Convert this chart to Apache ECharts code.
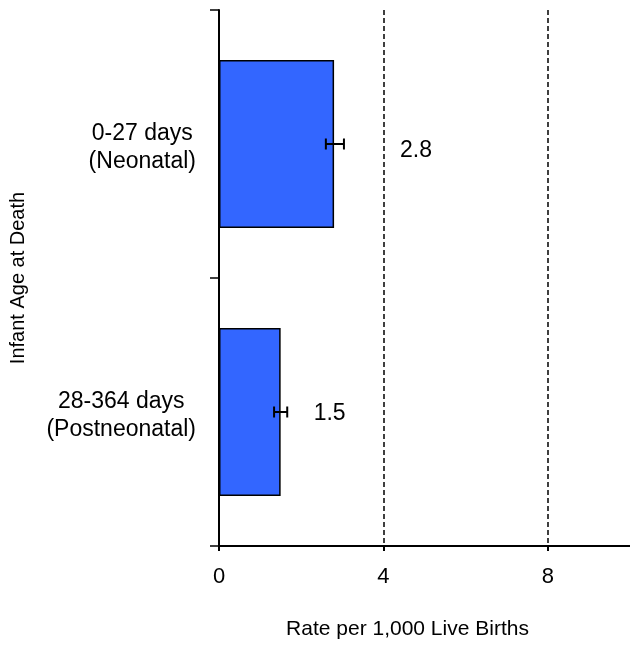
<!DOCTYPE html>
<html>
<head>
<meta charset="utf-8">
<script src="https://cdn.jsdelivr.net/npm/echarts@6/dist/echarts.min.js"></script>
<style>html,body{margin:0;padding:0;background:#fff}#c{width:630px;height:645px}</style>
</head>
<body>
<div id="c"></div>
<script>
var categories = ['0-27 days\n(Neonatal)', '28-364 days\n(Postneonatal)'];
var rates = [2.8, 1.5];
var ciLower = [2.6, 1.34];
var ciUpper = [3.04, 1.66];
var xTicks = [0, 4, 8];
var gridLines = [4, 8];

var labelGap = [66, 33];
var labelShift = [[0, 7], [0, 2]];
var FONT = "'Liberation Sans', Arial, Helvetica, sans-serif";

var chart = echarts.init(document.getElementById('c'), null, {renderer: 'canvas'});

var barData = rates.map(function (v, i) {
  return {
    value: v,
    label: {distance: labelGap[i], offset: labelShift[i]}
  };
});
var errData = rates.map(function (v, i) { return [i, ciLower[i], ciUpper[i]]; });

chart.setOption({
  animation: false,
  backgroundColor: '#fff',
  grid: {left: 218, top: 10, width: 414, height: 538, containLabel: false},
  xAxis: {
    type: 'value',
    min: 0, max: 10, interval: 4,
    axisLine: {show: true, lineStyle: {color: '#000', width: 2}},
    axisTick: {show: true, length: 5, lineStyle: {color: '#000', width: 2}},
    axisLabel: {
      color: '#000', fontSize: 22, fontFamily: FONT, margin: 20,
      showMaxLabel: false,
      formatter: function (v) { return xTicks.indexOf(v) >= 0 ? String(v) : ''; }
    },
    splitLine: {show: false},
    name: 'Rate per 1,000 Live Births',
    nameLocation: 'middle',
    nameGap: 73,
    nameTextStyle: {color: '#000', fontSize: 21, fontFamily: FONT, padding: [0, 34, 0, 0]}
  },
  yAxis: {
    type: 'category',
    inverse: true,
    data: categories,
    axisLine: {show: true, lineStyle: {color: '#000', width: 2}},
    axisTick: {show: true, length: 9, lineStyle: {color: '#000', width: 1.5}},
    axisLabel: {
      margin: 23,
      color: '#000',
      padding: [7, 0, 0, 0],
      formatter: function (v) {
        return v.split('\n').map(function (s) { return '{a|' + s + '}'; }).join('\n');
      },
      rich: {a: {fontSize: 23, lineHeight: 28, align: 'center', color: '#000', fontFamily: FONT}}
    },
    splitLine: {show: false},
    name: 'Infant Age at Death',
    nameLocation: 'middle',
    nameRotate: 90,
    nameGap: 191,
    nameTextStyle: {color: '#000', fontSize: 20, fontFamily: FONT}
  },
  series: [
    {
      type: 'bar',
      data: barData,
      barWidth: 168,
      itemStyle: {color: '#3366FF', borderColor: '#000', borderWidth: 1.5},
      label: {
        show: true, position: 'right', color: '#000', fontSize: 23, fontFamily: FONT,
        formatter: function (p) { return p.value.toFixed(1); }
      },
      markLine: {
        silent: true,
        symbol: ['none', 'none'],
        label: {show: false},
        lineStyle: {color: '#000', width: 1.5, type: [5, 3]},
        data: gridLines.map(function (x) { return {xAxis: x}; })
      },
      z: 2
    },
    {
      type: 'custom',
      data: errData,
      encode: {x: [1, 2], y: 0},
      z: 5,
      renderItem: function (params, api) {
        var idx = api.value(0);
        var p1 = api.coord([api.value(1), idx]);
        var p2 = api.coord([api.value(2), idx]);
        var h = 5.5;
        var st = {stroke: '#000', lineWidth: 2};
        return {
          type: 'group',
          children: [
            {type: 'line', shape: {x1: p1[0], y1: p1[1], x2: p2[0], y2: p2[1]}, style: st},
            {type: 'line', shape: {x1: p1[0], y1: p1[1] - h, x2: p1[0], y2: p1[1] + h}, style: st},
            {type: 'line', shape: {x1: p2[0], y1: p2[1] - h, x2: p2[0], y2: p2[1] + h}, style: st}
          ]
        };
      }
    }
  ]
});
</script>
</body>
</html>
